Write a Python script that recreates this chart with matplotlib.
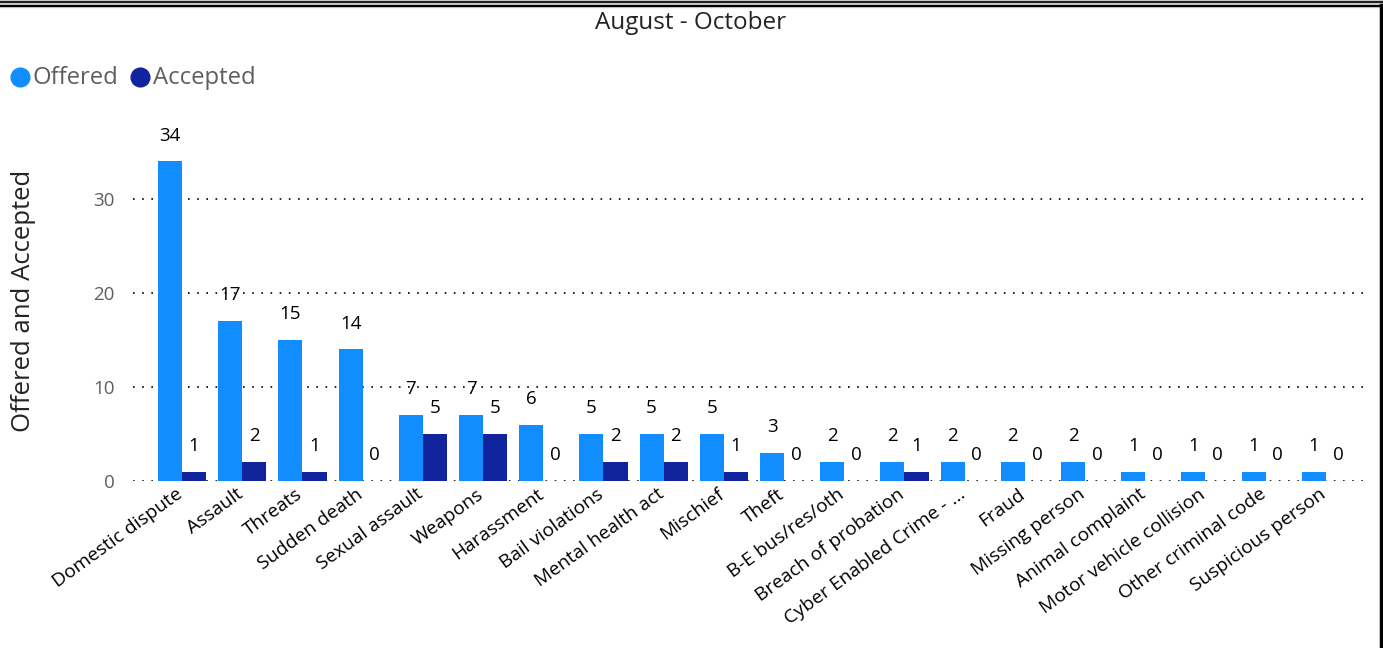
import matplotlib
matplotlib.use("Agg")
import matplotlib.pyplot as plt
import matplotlib.transforms as mtransforms
import numpy as np
from matplotlib.patches import Rectangle
from matplotlib.lines import Line2D

categories = ["Domestic dispute", "Assault", "Threats", "Sudden death", "Sexual assault",
              "Weapons", "Harassment", "Bail violations", "Mental health act", "Mischief",
              "Theft", "B-E bus/res/oth", "Breach of probation", "Cyber Enabled Crime - ...",
              "Fraud", "Missing person", "Animal complaint", "Motor vehicle collision",
              "Other criminal code", "Suspicious person"]
offered = [34, 17, 15, 14, 7, 7, 6, 5, 5, 5, 3, 2, 2, 2, 2, 2, 1, 1, 1, 1]
accepted = [1, 2, 1, 0, 5, 5, 0, 2, 2, 1, 0, 0, 1, 0, 0, 0, 0, 0, 0, 0]
yticks = [0, 10, 20, 30]

C_OFF = "#118DFF"
C_ACC = "#12239E"
FONT = ["Open Sans", "DejaVu Sans"]
plt.rcParams['font.family'] = FONT

W, H = 1383, 648
fig = plt.figure(figsize=(W / 100, H / 100), dpi=100)

def fx(px):
    return px / W

def fy(py):
    return 1 - py / H

ax = fig.add_axes([fx(133), fy(481), fx(1368) - fx(133), fy(133) - fy(481)])
x = np.arange(len(categories))
bw = 0.4
b1 = ax.bar(x - bw / 2, offered, bw, color=C_OFF, zorder=3)
b2 = ax.bar(x + bw / 2, accepted, bw, color=C_ACC, zorder=3)
ax.set_xlim(-0.815, len(categories) - 0.3)
ax.set_ylim(0, 37)

for rects, vals in ((b1, offered), (b2, accepted)):
    for r, v in zip(rects, vals):
        ax.annotate(str(v), (r.get_x() + r.get_width() / 2, v), xytext=(0, 18.5),
                    textcoords="offset points", ha="center", va="center",
                    fontsize=13.5, color="#000000", zorder=4)

for s in ax.spines.values():
    s.set_visible(False)
ax.set_yticks(yticks)
ax.set_yticklabels([str(t) for t in yticks], fontsize=13.5, color="#605E5C")
ax.tick_params(axis="y", length=0, pad=13)
ax.tick_params(axis="x", length=0, pad=3)
ax.yaxis.grid(True, linestyle=(0, (1, 4.5)), color="#000000", linewidth=1.2, zorder=0)
ax.set_axisbelow(True)
ax.set_xticks(x)
ax.set_xticklabels(categories, rotation=36, ha="right", rotation_mode="anchor",
                   fontsize=13.8, color="#000000")
shift = mtransforms.ScaledTranslation(-7 / 100, 0, fig.dpi_scale_trans)
for lbl in ax.get_xticklabels():
    lbl.set_transform(lbl.get_transform() + shift)

fig.text(fx(24), fy(301), "Offered and Accepted", rotation=90, ha="center", va="center",
         fontsize=18.5, color="#252423")

fig.text(fx(691), fy(23), "August - October", ha="center", va="center",
         fontsize=17.5, color="#252423")

# legend
for cx, col, lab, tx in ((20, C_OFF, "Offered", 32), (140, C_ACC, "Accepted", 153)):
    fig.lines.append(Line2D([fx(cx)], [fy(77)], marker="o", markersize=13.5, color=col,
                            linestyle="none", transform=fig.transFigure, figure=fig))
    fig.text(fx(tx), fy(78), lab, ha="left", va="center", fontsize=17.2, color="#605E5C")

# frame borders
fig.patches.append(Rectangle((0, fy(7)), 1, 7 / H, transform=fig.transFigure,
                             color="#C8C8C8", figure=fig))
fig.lines.append(Line2D([0, 1], [fy(1.5), fy(1.5)], transform=fig.transFigure,
                        color="#000000", linewidth=1.2, figure=fig))
fig.lines.append(Line2D([0, 1], [fy(5.5), fy(5.5)], transform=fig.transFigure,
                        color="#000000", linewidth=1.5, figure=fig))
fig.lines.append(Line2D([fx(1381), fx(1381)], [0, fy(5)], transform=fig.transFigure,
                        color="#000000", linewidth=2.5, figure=fig))

fig.savefig("out.png", dpi=100)
